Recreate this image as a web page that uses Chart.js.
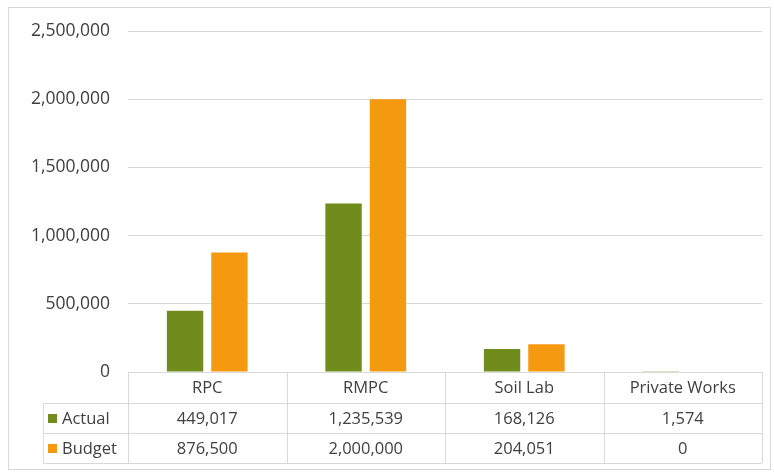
<!DOCTYPE html>
<html>
<head>
  <meta charset="utf-8">
  <title>Actual vs Budget</title>
  <script src="https://cdn.jsdelivr.net/npm/chart.js@4.4.0/dist/chart.umd.min.js"></script>
  <style>
    html, body { margin: 0; padding: 0; background: #fff; }
  </style>
</head>
<body>
  <canvas id="canvas" width="774" height="472"></canvas>
  <script>
    // chart data
    const categories = ['RPC', 'RMPC', 'Soil Lab', 'Private Works'];
    const actual = [449017, 1235539, 168126, 1574];
    const budget = [876500, 2000000, 204051, 0];
    const seriesNames = ['Actual', 'Budget'];
    const yTicks = [0, 500000, 1000000, 1500000, 2000000, 2500000];

    const green = '#6f8c1c';
    const orange = '#f59a10';
    const lineColor = '#d9d9d9';
    const textColor = '#404040';
    const font = '"Open Sans", "Liberation Sans", sans-serif';

    const fmt = v => v.toLocaleString('en-US');

    // draws the outer frame
    const framePlugin = {
      id: 'frame',
      beforeDraw(chart) {
        const ctx = chart.ctx;
        ctx.save();
        ctx.strokeStyle = lineColor;
        ctx.lineWidth = 1;
        ctx.strokeRect(8.5, 7.5, 762, 462);
        ctx.restore();
      }
    };

    // data table under the plot, like Excel
    const tablePlugin = {
      id: 'dataTable',
      afterDraw(chart) {
        const ctx = chart.ctx;
        const area = chart.chartArea;
        const n = categories.length;
        const colW = (area.right - area.left) / n;
        const top = area.bottom;
        const headH = 31, rowH = 30;
        const labelLeft = 43;
        const rows = [actual, budget];
        const colors = [green, orange];

        ctx.save();
        ctx.strokeStyle = lineColor;
        ctx.lineWidth = 1;
        ctx.beginPath();
        // horizontal lines
        ctx.moveTo(area.left, top + 0.5);
        ctx.lineTo(area.right, top + 0.5);
        for (let r = 0; r <= rows.length; r++) {
          const y = Math.round(top + headH + r * rowH) + 0.5;
          ctx.moveTo(labelLeft, y);
          ctx.lineTo(area.right, y);
        }
        // vertical lines
        for (let c = 0; c <= n; c++) {
          const x = Math.round(area.left + c * colW) + 0.5;
          ctx.moveTo(x, top);
          ctx.lineTo(x, top + headH + rows.length * rowH);
        }
        ctx.moveTo(labelLeft + 0.5, top + headH);
        ctx.lineTo(labelLeft + 0.5, top + headH + rows.length * rowH);
        ctx.stroke();

        ctx.fillStyle = textColor;
        ctx.font = '16.5px ' + font;
        ctx.textAlign = 'center';
        ctx.textBaseline = 'middle';
        categories.forEach((c, i) => {
          ctx.fillText(c, area.left + (i + 0.5) * colW, top + headH / 2 + 1);
        });
        rows.forEach((vals, r) => {
          const yc = top + headH + r * rowH + rowH / 2 + 1;
          vals.forEach((v, i) => {
            ctx.fillStyle = textColor;
            ctx.textAlign = 'center';
            ctx.fillText(fmt(v), area.left + (i + 0.5) * colW, yc);
          });
          ctx.fillStyle = colors[r];
          ctx.fillRect(labelLeft + 5, yc - 5, 9, 9);
          ctx.fillStyle = textColor;
          ctx.textAlign = 'left';
          ctx.fillText(seriesNames[r], labelLeft + 19, yc);
        });
        ctx.restore();
      }
    };

    new Chart(document.getElementById('canvas'), {
      type: 'bar',
      data: {
        labels: categories,
        datasets: [{
          label: seriesNames[0],
          data: actual,
          backgroundColor: green
        }, {
          label: seriesNames[1],
          data: budget,
          backgroundColor: orange
        }]
      },
      options: {
        responsive: false,
        animation: false,
        devicePixelRatio: 1,
        layout: { padding: { top: 31, right: 12, bottom: 100, left: 0 } },
        datasets: {
          bar: { categoryPercentage: 0.56, barPercentage: 0.82 }
        },
        plugins: {
          legend: { display: false },
          tooltip: { enabled: false }
        },
        scales: {
          x: { display: false },
          y: {
            min: 0,
            max: yTicks[yTicks.length - 1],
            afterBuildTicks(scale) {
              scale.ticks = yTicks.map(v => ({ value: v }));
            },
            afterFit(scale) { scale.width = 128; },
            border: { display: false },
            grid: { color: lineColor, drawTicks: false },
            ticks: {
              padding: 18,
              color: textColor,
              font: { family: font, size: 17.5 },
              callback: v => fmt(v)
            }
          }
        }
      },
      plugins: [framePlugin, tablePlugin]
    });
  </script>
</body>
</html>
